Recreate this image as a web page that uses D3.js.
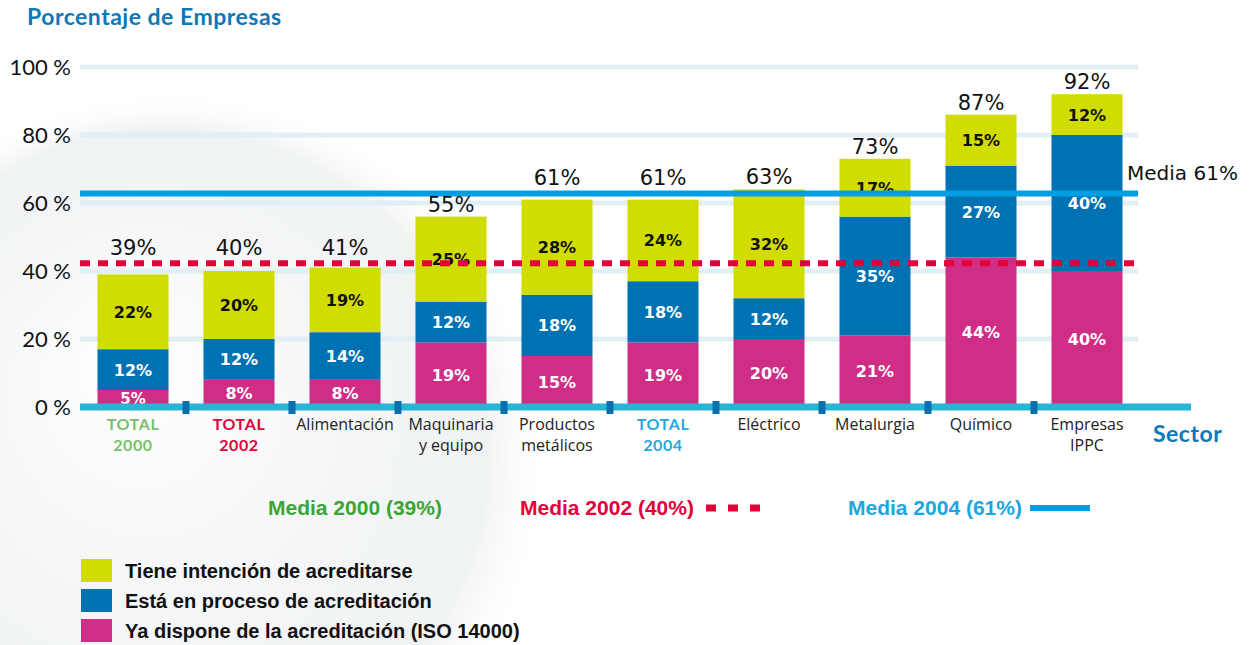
<!DOCTYPE html>
<html>
<head>
<meta charset="utf-8">
<script src="https://cdn.jsdelivr.net/npm/d3@7"></script>
<style>
  body { margin: 0; background: #fff; }
  svg { display: block; }
</style>
</head>
<body>
<div id="chart"></div>
<script>
// data
const sectors = ['TOTAL\n2000', 'TOTAL\n2002', 'Alimentación', 'Maquinaria\ny equipo',
  'Productos\nmetálicos', 'TOTAL\n2004', 'Eléctrico', 'Metalurgia', 'Químico', 'Empresas\nIPPC'];
const acreditados = [5, 8, 8, 19, 15, 19, 20, 21, 44, 40];   // Ya dispone (ISO 14000)
const enProceso = [12, 12, 14, 12, 18, 18, 12, 35, 27, 40];  // Está en proceso
const intencion = [22, 20, 19, 25, 28, 24, 32, 17, 15, 12];  // Tiene intención
const totales = [39, 40, 41, 55, 61, 61, 63, 73, 87, 92];
const yTicks = [0, 20, 40, 60, 80, 100];
const media2002 = 42.3;   // dashed red line as drawn
const media2004 = 62.8;   // solid blue line as drawn
const mediaLabels = ['Media 2000 (39%)', 'Media 2002 (40%)', 'Media 2004 (61%)'];
const seriesNames = ['Tiene intención de acreditarse', 'Está en proceso de acreditación',
  'Ya dispone de la acreditación (ISO 14000)'];

const colors = { intencion: '#d1dc00', proceso: '#0072b4', acreditados: '#cf2d86' };
const labelColors = ['#78c06a', '#e3003a', '#222', '#222', '#222', '#24a8df', '#222', '#222', '#222', '#222'];

const width = 1260, height = 645;
const svg = d3.select('#chart').append('svg')
  .attr('width', width)
  .attr('height', height);

// faint globe in the background
const defs = svg.append('defs');
const grad = defs.append('radialGradient').attr('id', 'globe')
  .attr('cx', '0.5').attr('cy', '0.5').attr('r', '0.5')
  .attr('fx', '0.45').attr('fy', '0.35');
grad.append('stop').attr('offset', '0%').attr('stop-color', '#ffffff').attr('stop-opacity', 1);
grad.append('stop').attr('offset', '55%').attr('stop-color', '#f3f5f6').attr('stop-opacity', 1);
grad.append('stop').attr('offset', '85%').attr('stop-color', '#eceff1').attr('stop-opacity', 0.8);
grad.append('stop').attr('offset', '100%').attr('stop-color', '#ffffff').attr('stop-opacity', 0);
svg.append('circle')
  .attr('cx', 170).attr('cy', 470).attr('r', 380)
  .attr('fill', 'url(#globe)');

const x = d3.scaleBand()
  .domain(d3.range(sectors.length))
  .range([80, 1140])
  .paddingInner(0.33)
  .paddingOuter(0.165);

const y = d3.scaleLinear()
  .domain([0, 100])
  .range([407, 67]);

// title
svg.append('text')
  .attr('x', 27).attr('y', 25)
  .attr('font-family', 'Lato, sans-serif')
  .attr('font-weight', 'bold')
  .attr('font-size', 23)
  .attr('letter-spacing', 0.5)
  .attr('fill', '#0b78b8')
  .text('Porcentaje de Empresas');

// gridlines
svg.append('g')
  .selectAll('rect')
  .data(yTicks.filter(d => d > 0))
  .join('rect')
  .attr('x', 80).attr('width', 1058)
  .attr('y', d => y(d) - 2.5).attr('height', 5)
  .attr('fill', '#e1eef3');

// y axis labels
svg.append('g')
  .selectAll('text')
  .data(yTicks)
  .join('text')
  .attr('x', 71)
  .attr('y', d => y(d) + 8)
  .attr('text-anchor', 'end')
  .attr('font-family', 'Lato, sans-serif')
  .attr('font-size', 22)
  .attr('fill', '#111')
  .text(d => d + ' %');

// stacked bars
const rows = sectors.map((s, i) => ({
  i, acreditados: acreditados[i], proceso: enProceso[i], intencion: intencion[i]
}));
const stack = d3.stack().keys(['acreditados', 'proceso', 'intencion']);
const layers = stack(rows);

const barG = svg.append('g');
layers.forEach(layer => {
  barG.append('g')
    .attr('fill', colors[layer.key])
    .selectAll('rect')
    .data(layer)
    .join('rect')
    .attr('x', d => x(d.data.i))
    .attr('width', x.bandwidth())
    .attr('y', d => y(d[1]))
    .attr('height', d => y(d[0]) - y(d[1]));

  barG.append('g')
    .selectAll('text')
    .data(layer)
    .join('text')
    .attr('x', d => x(d.data.i) + x.bandwidth() / 2)
    .attr('y', d => {
      const h = y(d[0]) - y(d[1]);
      return (y(d[0]) + y(d[1])) / 2 + (h < 20 ? 5 : 6);
    })
    .attr('text-anchor', 'middle')
    .attr('font-family', 'DejaVu Sans, sans-serif')
    .attr('font-weight', 'bold')
    .attr('font-size', d => (y(d[0]) - y(d[1])) < 20 ? 15 : 16)
    .attr('fill', layer.key === 'intencion' ? '#111' : '#fff')
    .text(d => (d[1] - d[0]) + '%');
});

// media lines
svg.append('line')
  .attr('x1', 80).attr('x2', 1140)
  .attr('y1', y(media2002)).attr('y2', y(media2002))
  .attr('stroke', '#e3003a')
  .attr('stroke-width', 6)
  .attr('stroke-dasharray', '10 8');

svg.append('line')
  .attr('x1', 80).attr('x2', 1138)
  .attr('y1', y(media2004)).attr('y2', y(media2004))
  .attr('stroke', '#009fe3')
  .attr('stroke-width', 6);

svg.append('text')
  .attr('x', 1127).attr('y', y(media2004) - 13)
  .attr('font-family', 'DejaVu Sans, sans-serif')
  .attr('font-size', 20)
  .attr('fill', '#111')
  .text('Media 61%');

// totals above bars, lifted over a media line when they would touch it
const lineYs = [y(media2002), y(media2004)];
svg.append('g')
  .selectAll('text')
  .data(totales)
  .join('text')
  .attr('x', (d, i) => x(i) + x.bandwidth() / 2)
  .attr('y', (d, i) => {
    const top = y(acreditados[i] + enProceso[i] + intencion[i]);
    let base = top - 5;
    lineYs.forEach(ly => {
      if (ly > base - 18 && ly < top) base = ly - 8;
    });
    return base;
  })
  .attr('text-anchor', 'middle')
  .attr('font-family', 'DejaVu Sans, sans-serif')
  .attr('font-size', 21)
  .attr('fill', '#111')
  .text(d => d + '%');

// baseline and separators
svg.append('rect')
  .attr('x', 80).attr('width', 1111)
  .attr('y', y(0) - 3.5).attr('height', 7)
  .attr('fill', '#29b4d3');

svg.append('g')
  .selectAll('rect')
  .data(d3.range(1, sectors.length))
  .join('rect')
  .attr('x', i => x(i) - x.step() * x.paddingInner() / 2 - 3.5)
  .attr('width', 7)
  .attr('y', y(0) - 6).attr('height', 13)
  .attr('fill', '#0a6fae');

// category labels
const catG = svg.append('g');
sectors.forEach((s, i) => {
  const isTotal = s.startsWith('TOTAL');
  const t = catG.append('text')
    .attr('x', x(i) + x.bandwidth() / 2)
    .attr('y', 430)
    .attr('text-anchor', 'middle')
    .attr('font-family', isTotal ? 'Lato, sans-serif' : 'Open Sans, sans-serif')
    .attr('font-weight', isTotal ? 'bold' : 400)
    .attr('font-size', 16)
    .attr('letter-spacing', isTotal ? 0.6 : 0)
    .attr('fill', labelColors[i]);
  s.split('\n').forEach((line, k) => {
    t.append('tspan')
      .attr('x', x(i) + x.bandwidth() / 2)
      .attr('dy', k === 0 ? 0 : 21)
      .text(line);
  });
});

svg.append('text')
  .attr('x', 1153).attr('y', 442)
  .attr('font-family', 'Lato, sans-serif')
  .attr('font-weight', 'bold')
  .attr('font-size', 23)
  .attr('letter-spacing', 0.5)
  .attr('fill', '#0b78b8')
  .text('Sector');

// media legend row
const mediaColors = ['#3aa535', '#e3003a', '#1ba6e0'];
const mediaX = [268, 520, 848];
svg.append('g')
  .selectAll('text')
  .data(mediaLabels)
  .join('text')
  .attr('x', (d, i) => mediaX[i])
  .attr('y', 515)
  .attr('font-family', 'Liberation Sans Narrow, Arial Narrow, sans-serif')
  .attr('font-weight', 'bold')
  .attr('font-size', 21)
  .attr('fill', (d, i) => mediaColors[i])
  .text(d => d);

svg.append('line')
  .attr('x1', 706).attr('x2', 760)
  .attr('y1', 508).attr('y2', 508)
  .attr('stroke', '#e3003a')
  .attr('stroke-width', 7)
  .attr('stroke-dasharray', '10 12');

svg.append('line')
  .attr('x1', 1030).attr('x2', 1090)
  .attr('y1', 508).attr('y2', 508)
  .attr('stroke', '#009fe3')
  .attr('stroke-width', 6);

// series legend
const legendColors = [colors.intencion, colors.proceso, colors.acreditados];
const leg = svg.append('g')
  .selectAll('g')
  .data(seriesNames)
  .join('g')
  .attr('transform', (d, i) => `translate(81, ${559 + i * 30})`);

leg.append('rect')
  .attr('width', 31).attr('height', 23)
  .attr('fill', (d, i) => legendColors[i]);

leg.append('text')
  .attr('x', 44).attr('y', 19)
  .attr('font-family', 'Liberation Sans Narrow, Arial Narrow, sans-serif')
  .attr('font-weight', 'bold')
  .attr('font-size', 20)
  .attr('fill', '#111')
  .text(d => d);
</script>
</body>
</html>
